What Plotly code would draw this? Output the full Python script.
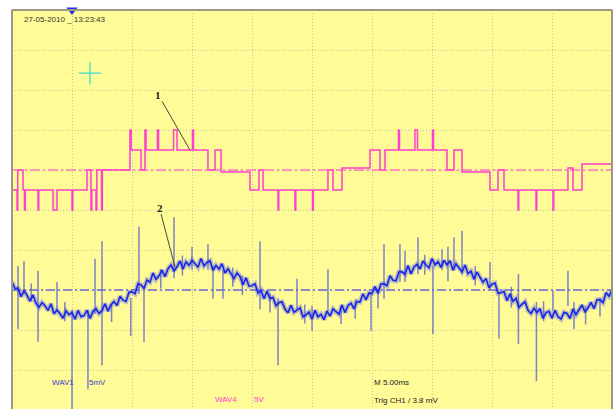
import plotly.graph_objects as go

# ---------------- data ----------------
# time base: 5 ms / div, 10 divisions
time_div_ms = 5
n_xdiv = 10
n_ydiv = 10

# WAV4 (pink, 5 V/div): step transitions, time in ms, level in V
pink_t = [0.0, 0.42, 0.48, 0.92, 1.04, 1.11, 2.17, 2.23, 3.42, 3.75, 5.0, 5.07,
          6.25, 6.58, 6.65, 7.0, 7.07, 7.46, 7.53,
          9.83, 9.93, 10.75, 11.08, 11.17, 12.12, 12.21, 13.46, 13.75, 15.04, 15.12,
          16.33, 16.92, 17.42,
          19.83, 20.58, 20.92, 22.17, 22.23, 23.58, 23.65, 25.04, 25.11, 26.33, 26.75,
          27.5,
          29.83, 30.67, 31.08, 32.21, 32.29, 33.58, 33.79, 35.04, 35.12, 36.25, 36.83,
          37.5,
          39.83, 40.5, 41.0, 42.17, 42.23, 43.67, 43.73, 45.08, 45.15, 46.33, 46.75,
          47.5, 50.0]
pink_v = [-2.5, -5, 0, -2.5, -5, -2.5, -5, -2.5, -5, -2.5, -5, -2.5,
          0, -5, -2.5, -5, 0, -5, 0,
          5, 2.5, 0, 5, 2.5, 5, 2.5, 5, 2.5, 5, 2.5,
          0, 2.5, -0.25,
          -2.5, 0, -2.5, -5, -2.5, -5, -2.5, -5, -2.5, 0, -2.5,
          0.25,
          2.5, 0, 2.5, 5, 2.5, 5, 2.5, 5, 2.5, 0, 2.5,
          -0.25,
          -2.5, 0, -2.5, -5, -2.5, -5, -2.5, -5, -2.5, 0.25, -2.5,
          0.75, 0.5]
pink_v_per_div = 5
pink_ref_div = 6

# WAV1 (blue, 5 mV/div): sampled every 0.25 ms, values in mV
blue_dt_ms = 0.25
blue_mv = [1.03, 0.17, 0.22, -0.84, -0.09, -0.64, -1.38, -0.62, -1.65, -2.17,
           -1.58, -1.97, -2.55, -1.72, -2.98, -2.51, -2.93, -3.53, -2.62, -3.08,
           -2.82, -3.65, -2.55, -3.33, -3.20, -2.54, -3.56, -2.67, -2.36, -2.93,
           -2.58, -1.72, -2.64, -1.85, -1.44, -1.93, -0.80, -1.27, -1.43, -0.28,
           -0.23, -0.47, 0.78, 0.64, 0.19, 1.24, 0.98, 2.12, 1.35, 1.77,
           2.48, 1.67, 2.65, 3.12, 2.38, 2.91, 3.63, 2.63, 3.52, 3.08,
           3.72, 3.25, 2.85, 3.93, 3.00, 3.44, 3.66, 2.47, 3.06, 2.63,
           3.28, 2.12, 2.64, 2.05, 1.44, 2.13, 1.70, 0.67, 1.53, 0.48,
           0.53, 0.77, -0.38, -0.04, -1.09, -0.14, -1.08, -0.92, -1.95, -1.57,
           -1.48, -2.37, -2.85, -1.92, -2.78, -2.51, -2.23, -3.33, -3.12, -2.78,
           -3.62, -2.55, -3.35, -3.03, -3.70, -2.64, -3.26, -2.37, -2.76, -3.03,
           -1.88, -2.82, -1.94, -1.65, -2.34, -1.43, -1.50, -0.47, -1.23, -0.38,
           -0.43, 0.43, -0.42, 0.74, 0.79, 0.54, 1.78, 1.22, 1.15, 2.27,
           2.28, 1.97, 3.05, 2.02, 2.88, 3.21, 2.63, 3.63, 3.12, 2.78,
           3.92, 3.15, 3.55, 2.83, 3.70, 3.14, 3.66, 2.47, 3.26, 2.83,
           2.28, 3.12, 2.04, 2.35, 1.34, 2.23, 1.60, 0.97, 1.43, 0.28,
           0.73, 0.87, -0.38, -0.34, -0.19, -1.34, -0.48, -1.42, -1.05, -2.17,
           -1.78, -1.47, -2.55, -2.92, -2.28, -2.81, -2.33, -3.53, -2.82, -2.68,
           -3.52, -2.55, -3.35, -3.63, -2.80, -2.94, -3.56, -2.37, -3.06, -2.43,
           -1.88, -2.72, -2.24, -1.55, -2.34, -1.23, -1.20, -1.57, -0.33, -0.78,
           -0.03]
blue_mv_per_div = 5
blue_ref_div = 3

# switching spikes / hairs on WAV1: time (ms), upper and lower tip (mV)
spike_t = [0.5, 1.0, 2.17, 3.75, 5.0, 6.33, 6.92, 7.5, 9.9, 10.58, 11.0, 13.5,
           15.0, 16.33, 16.75, 17.58, 20.67, 22.17, 23.75, 25.0, 26.33, 27.42,
           29.92, 31.0, 32.33, 32.75, 33.83, 35.08, 35.83, 36.33, 36.83, 37.5,
           39.83, 40.58, 42.2, 43.7, 45.08, 46.33, 46.83,
           1.6, 4.4, 8.3, 12.4, 14.2, 18.4, 19.2, 21.5, 24.4, 28.6, 30.5, 34.4,
           38.6, 41.6, 44.3, 47.8, 49.0]
spike_hi = [3.0, 3.6, 2.4, 1.0, -2.5, -2.5, 3.9, 6.1, -1.0, 7.9, 0.5, 9.1,
            5.4, 5.75, 3.0, 2.5, 6.1, -1.0, 1.4, -2.0, 2.6, -2.0,
            -0.5, 5.75, 5.75, 4.9, 6.6, 3.0, 5.1, 5.4, 6.6, 7.4,
            3.5, -0.5, 2.0, -1.5, -0.1, 2.4, -1.5,
            0.8, -1.5, -1.8, 2.6, 4.3, 2.8, 1.8, -0.4, -1.8, -1.2, 0.2, 4.4,
            3.0, 0.4, -1.4, -2.0, -1.0]
spike_lo = [-4.9, -0.5, -6.5, -2.5, -15.0, -12.4, -3.0, -9.4, -5.75, -0.5, -6.5, 1.5,
            2.5, 2.5, -1.1, -1.1, -2.4, -9.4, -2.5, -5.1, -2.6, -4.25,
            -5.1, -1.1, 1.0, 1.0, 2.0, -5.5, 2.5, 1.1, 2.5, 2.0,
            0.0, -6.1, -6.75, -11.4, -2.5, -2.0, -4.9,
            -1.4, -3.9, -4.0, 0.2, 1.8, 0.4, -0.6, -2.8, -4.2, -3.6, -2.3, 1.9,
            0.6, -2.2, -3.9, -4.3, -3.3]

# screen texts
timestamp = "27-05-2010 _ 13:23:43"
ch1_name, ch1_scale = "WAV1", "5mV"
ch4_name, ch4_scale = "WAV4", "5V"
timebase_txt = "M 5.00ms"
trigger_txt = "Trig CH1 / 3.8 mV"

# ---------------- figure ----------------
x_max = time_div_ms * n_xdiv
pink_y = [pink_ref_div + v / pink_v_per_div for v in pink_v]
blue_t = [i * blue_dt_ms for i in range(len(blue_mv))]
blue_y = [blue_ref_div + v / blue_mv_per_div for v in blue_mv]

sx, sy = [], []
for t, hi, lo in zip(spike_t, spike_hi, spike_lo):
    sx += [t, t, None]
    sy += [blue_ref_div + hi / blue_mv_per_div, blue_ref_div + lo / blue_mv_per_div, None]

PINK = "#ff3fd0"
BLUE = "#1a28e8"

fig = go.Figure()

# reference (ground) markers
fig.add_trace(go.Scatter(x=[0, x_max], y=[pink_ref_div, pink_ref_div], mode="lines",
                         line=dict(color=PINK, width=1, dash="10px,3px,2px,3px"),
                         hoverinfo="skip"))
fig.add_trace(go.Scatter(x=[0, x_max], y=[blue_ref_div, blue_ref_div], mode="lines",
                         line=dict(color="#6a6ad6", width=1.5, dash="9px,3px,2px,3px"),
                         hoverinfo="skip"))

# WAV4 staircase
fig.add_trace(go.Scatter(x=pink_t, y=pink_y, mode="lines", line_shape="hv",
                         line=dict(color=PINK, width=1.5)))

# WAV1 halo, spikes, trace
fig.add_trace(go.Scatter(x=blue_t, y=blue_y, mode="lines",
                         line=dict(color="rgba(100,105,225,0.4)", width=5)))
fig.add_trace(go.Scatter(x=sx, y=sy, mode="lines",
                         line=dict(color="rgba(95,100,210,0.8)", width=1.5)))
fig.add_trace(go.Scatter(x=blue_t, y=blue_y, mode="lines",
                         line=dict(color=BLUE, width=1.7)))

# trigger position marker and cursor cross
fig.add_trace(go.Scatter(x=[time_div_ms], y=[n_ydiv], mode="markers", cliponaxis=False,
                         marker=dict(symbol="triangle-down", size=10, color="#2233ee")))
fig.add_trace(go.Scatter(x=[6.5], y=[8.42], mode="markers",
                         marker=dict(symbol="cross-thin", size=16,
                                     line=dict(color="#3fe0c8", width=1.3))))

# callout lines
fig.add_shape(type="line", x0=12.5, y0=7.72, x1=14.83, y1=6.5,
              line=dict(color="#4a4a3a", width=1))
fig.add_shape(type="line", x0=12.42, y0=4.9, x1=13.58, y1=3.58,
              line=dict(color="#4a4a3a", width=1))

# frame (top, left, right)
for x0, y0, x1, y1 in [(0, 1, 1, 1), (0, 0, 0, 1), (1, 0, 1, 1)]:
    fig.add_shape(type="line", xref="paper", yref="paper", x0=x0, y0=y0, x1=x1, y1=y1,
                  line=dict(color="#9a9a84", width=2))

def txt(x, y, s, color, size=8, family="Liberation Sans", anchor="left", bold=False):
    fig.add_annotation(x=x, y=y, text=("<b>%s</b>" % s) if bold else s, showarrow=False,
                       xanchor=anchor, yanchor="middle",
                       font=dict(color=color, size=size, family=family))

txt(0.83, 9.77, timestamp, "#333333")
txt(12.17, 7.87, "1", "#222222", size=11, family="Liberation Serif", anchor="center", bold=True)
txt(12.33, 5.05, "2", "#222222", size=11, family="Liberation Serif", anchor="center", bold=True)
txt(3.17, 0.68, ch1_name, "#3b3bd0")
txt(6.25, 0.68, ch1_scale, "#3b3bd0")
txt(16.75, 0.27, ch4_name, PINK)
txt(20.0, 0.27, ch4_scale, PINK)
txt(30.0, 0.68, timebase_txt, "#222222")
txt(30.0, 0.25, trigger_txt, "#222222")

grid = dict(showgrid=True, gridcolor="#c2c1a6", griddash="1px,2px", gridwidth=1,
            showticklabels=False, zeroline=False, showline=False, ticks="")
fig.update_layout(
    width=615, height=409,
    margin=dict(l=12, r=3, t=10, b=0),
    paper_bgcolor="white", plot_bgcolor="#fffb97",
    showlegend=False,
    xaxis=dict(range=[0, x_max], dtick=time_div_ms, tick0=0, **grid),
    yaxis=dict(range=[0.025, n_ydiv], dtick=1, tick0=0, **grid),
)

fig.write_html("out.html")
